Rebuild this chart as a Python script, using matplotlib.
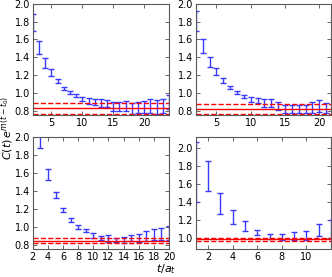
import numpy as np
import matplotlib
matplotlib.use('Agg')
import matplotlib.pyplot as plt

# top-left panel
t_tl = list(range(2, 25))
c_tl = [1.79, 1.505, 1.335, 1.226, 1.133, 1.05, 1.0, 0.97, 0.93, 0.906, 0.895, 0.885,
        0.878, 0.844, 0.848, 0.852, 0.82, 0.831, 0.838, 0.85, 0.84, 0.85, 0.9]
e_tl = [0.10, 0.072, 0.053, 0.038, 0.026, 0.019, 0.019, 0.021, 0.026, 0.032, 0.036, 0.041,
        0.041, 0.049, 0.052, 0.056, 0.062, 0.062, 0.07, 0.08, 0.079, 0.08, 0.08]
fit_tl = [0.825, 0.765, 0.881]

# top-right panel
t_tr = list(range(2, 22))
c_tr = [1.81, 1.527, 1.347, 1.237, 1.14, 1.058, 1.005, 0.96, 0.925, 0.911, 0.885, 0.885,
        0.851, 0.816, 0.82, 0.82, 0.82, 0.835, 0.853, 0.829]
e_tr = [0.11, 0.075, 0.053, 0.04, 0.026, 0.019, 0.019, 0.019, 0.024, 0.03, 0.041, 0.041,
        0.045, 0.047, 0.043, 0.047, 0.045, 0.058, 0.066, 0.06]
fit_tr = [0.818, 0.758, 0.87]

# bottom-left panel
t_bl = list(range(3, 21))
c_bl = [1.95, 1.587, 1.352, 1.19, 1.07, 0.996, 0.956, 0.904, 0.874, 0.87, 0.852, 0.85,
        0.873, 0.877, 0.9, 0.91, 0.92, 0.93]
e_bl = [0.075, 0.061, 0.037, 0.022, 0.022, 0.018, 0.018, 0.026, 0.026, 0.037, 0.026, 0.033,
        0.033, 0.044, 0.055, 0.063, 0.068, 0.08]
fit_bl = [0.845, 0.82, 0.87]

# bottom-right panel
t_br = list(range(1, 13))
c_br = [1.735, 1.686, 1.383, 1.232, 1.13, 1.06, 1.013, 1.009, 1.017, 1.024, 1.085, 1.1]
e_br = [0.335, 0.171, 0.118, 0.081, 0.053, 0.031, 0.028, 0.031, 0.046, 0.053, 0.07, 0.098]
fit_br = [0.982, 0.963, 1.0]

panels = [
    (t_tl, c_tl, e_tl, fit_tl, (2, 24), (0.75, 2.0), [5, 10, 15, 20], np.arange(0.8, 2.01, 0.2)),
    (t_tr, c_tr, e_tr, fit_tr, (2, 21.7), (0.75, 2.0), [5, 10, 15, 20], np.arange(0.8, 2.01, 0.2)),
    (t_bl, c_bl, e_bl, fit_bl, (2, 20), (0.75, 2.0), list(range(2, 21, 2)), np.arange(0.8, 2.01, 0.2)),
    (t_br, c_br, e_br, fit_br, (1, 12), (0.875, 2.12), list(range(2, 11, 2)), np.arange(1.0, 2.01, 0.2)),
]

rects = [
    [0.099, 0.585, 0.410, 0.401],
    [0.590, 0.585, 0.407, 0.401],
    [0.099, 0.101, 0.410, 0.404],
    [0.590, 0.101, 0.407, 0.404],
]

fig = plt.figure(figsize=(3.32, 2.77), dpi=100)

for rect, (t, c, e, fit, xl, yl, xt, yt) in zip(rects, panels):
    ax = fig.add_axes(rect)
    ax.errorbar(t, c, yerr=e, fmt='none', ecolor='#3a3aff', elinewidth=1.0,
                capsize=2, capthick=1.0, clip_on=True)
    ax.axhline(fit[0], color='red', lw=1.0)
    ax.axhline(fit[1], color='red', lw=1.0, ls='--')
    ax.axhline(fit[2], color='red', lw=1.0, ls='--')
    ax.set_xlim(*xl)
    ax.set_ylim(*yl)
    ax.set_xticks(xt)
    ax.set_yticks(yt)
    ax.set_yticklabels(['%.1f' % v for v in yt])
    ax.tick_params(direction='in', top=True, right=True, labelsize=7,
                   length=3, width=0.6, pad=2, color='0.3')
    for s in ax.spines.values():
        s.set_color('0.35')
        s.set_linewidth(0.8)

fig.text(0.022, 0.54, r'$C(t)\,e^{m(t-t_0)}$', rotation=90, ha='center', va='center', fontsize=8)
fig.text(0.5, 0.03, r'$t/a_t$', ha='center', va='center', fontsize=8)

fig.savefig('out.png', dpi=100)
